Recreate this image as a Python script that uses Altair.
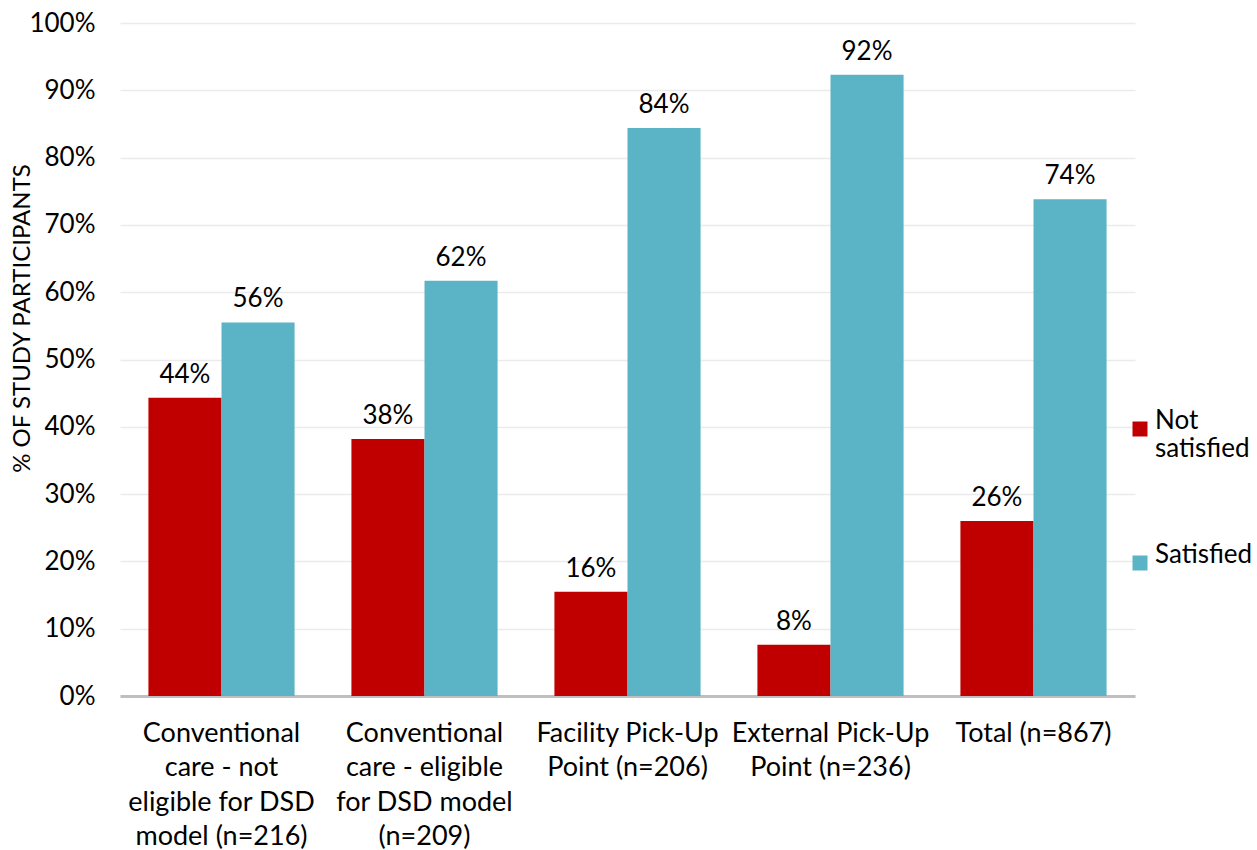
import altair as alt
import pandas as pd

categories = [
    "Conventional\ncare - not\neligible for DSD\nmodel (n=216)",
    "Conventional\ncare - eligible\nfor DSD model\n(n=209)",
    "Facility Pick-Up\nPoint (n=206)",
    "External Pick-Up\nPoint (n=236)",
    "Total (n=867)",
]
not_satisfied = [0.443, 0.382, 0.155, 0.076, 0.260]
satisfied = [0.555, 0.617, 0.844, 0.923, 0.738]
series = ["Not satisfied", "Satisfied"]
colors = ["#C00000", "#5BB4C5"]

rows = []
for c, ns, s in zip(categories, not_satisfied, satisfied):
    rows.append({"cat": c, "series": series[0], "value": ns})
    rows.append({"cat": c, "series": series[1], "value": s})
df = pd.DataFrame(rows)

FONT = "Lato"
FS = 26

base = alt.Chart(df).encode(
    x=alt.X("cat:N", sort=categories, title=None,
            scale=alt.Scale(paddingInner=0.28, paddingOuter=0.14),
            axis=alt.Axis(labelExpr="split(datum.label, '\\n')", labelAngle=0,
                          labelFontSize=27, labelFont=FONT, labelColor="#000000",
                          labelLineHeight=34.5, labelPadding=24, ticks=False,
                          domainColor="#BFBFBF", domainWidth=3, labelBaseline="top",
                          labelLimit=300)),
    xOffset=alt.XOffset("series:N", sort=series),
)

bars = base.mark_bar().encode(
    y=alt.Y("value:Q", scale=alt.Scale(domain=[0, 1]),
            title="% OF STUDY PARTICIPANTS",
            axis=alt.Axis(format="%", values=[i / 10 for i in range(11)],
                          labelFontSize=FS, labelFont=FONT, labelColor="#000000",
                          labelPadding=25, ticks=False, domain=False,
                          gridColor="#EBEBEB", gridWidth=1.5,
                          titleFont=FONT, titleFontSize=24, titleFontWeight="normal",
                          titleColor="#000000", titleX=-86, titleY=295)),
    color=alt.Color("series:N", sort=series,
                    scale=alt.Scale(domain=series, range=colors),
                    legend=alt.Legend(title=None, symbolType="square", symbolSize=225,
                                      labelFont=FONT, labelFontSize=FS,
                                      labelColor="#000000",
                                      labelExpr="datum.label == 'Not satisfied' ? ['Not', 'satisfied'] : datum.label",
                                      rowPadding=80, orient="none",
                                      legendX=1007, legendY=393, padding=0,
                                      labelBaseline="alphabetic", labelOffset=2)),
)

labels = base.mark_text(baseline="bottom", dy=-10, font=FONT, fontSize=FS,
                        color="#000000").encode(
    y="value:Q",
    text=alt.Text("value:Q", format=".0%"),
)

chart = (bars + labels).properties(
    width=1015, height=673,
    autosize=alt.AutoSizeParams(type="none"),
    padding={"left": 120, "top": 23, "right": 122, "bottom": 154},
).configure_view(stroke=None)

chart.save("out.html", embed_options={"renderer": "svg", "actions": False})
